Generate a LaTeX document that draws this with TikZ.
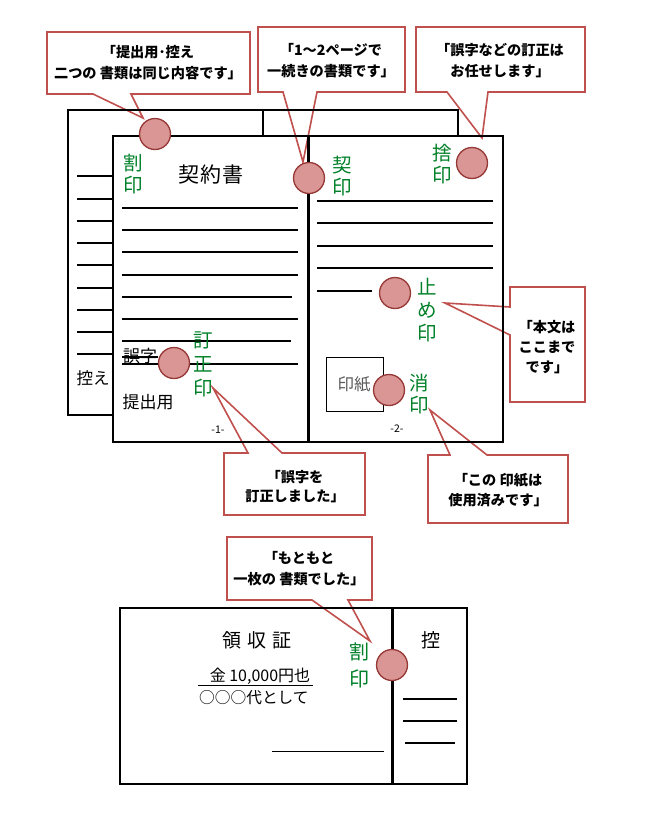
\documentclass[tikz,border=0pt]{standalone}
\usepackage{fontspec}
\setmainfont{Noto Sans CJK JP}
\definecolor{calred}{RGB}{192,80,77}
\definecolor{sealfill}{RGB}{217,150,148}
\definecolor{sealborder}{RGB}{149,55,53}
\definecolor{grn}{RGB}{0,128,40}
\definecolor{graytext}{RGB}{89,89,89}
\tikzset{
  callout/.style={draw=calred, line width=1.6pt, fill=white, line join=miter},
  ctext/.style={font=\fontsize{14.2}{21}\selectfont\bfseries, align=center, text=black, inner sep=0pt},
  seal/.style={circle, draw=sealborder, fill=sealfill, line width=1.3pt, minimum size=31pt, inner sep=0pt},
  glabel/.style={text=grn, font=\fontsize{19.5}{22.5}\selectfont, align=center, inner sep=0pt},
  btext/.style={text=black, inner sep=0pt},
  doc/.style={line width=2pt, line cap=rect},
  divider/.style={line width=3pt},
  rulel/.style={line width=1.1pt},
}
\begin{document}
\begin{tikzpicture}[x=1pt,y=-1pt]
\useasboundingbox (0,0) rectangle (648,831);

% ---- callouts (drawn first)
\draw[callout] (47,32) -- (250,32) -- (250,94) -- (131,94) -- (143,118) -- (93,94) -- (47,94) -- cycle;
\node[ctext] (c1) at (148,63) {「提出用･控え\\二つの 書類は同じ内容です」};

\draw[callout] (258,27) -- (405,27) -- (405,92) -- (317,92) -- (303,162) -- (283,92) -- (258,92) -- cycle;
\node[ctext] (c2) at (331,61) {「1～2ページで\\一続きの書類です」};

\draw[callout] (416,27) -- (585,27) -- (585,92) -- (488,92) -- (482,138) -- (447,92) -- (416,92) -- cycle;
\node[ctext] (c3) at (500,61) {「誤字などの訂正は\\お任せします」};

\draw[callout] (510,287) -- (585,287) -- (585,402) -- (510,402) -- (510,335) -- (445,303) -- (510,307) -- cycle;
\node[ctext, font=\fontsize{14.2}{20}\selectfont\bfseries] (c4) at (547,347) {「本文は\\ここまで\\です」};

\draw[callout] (224,453) -- (248,453) -- (213,388) -- (282,453) -- (365,453) -- (365,515) -- (224,515) -- cycle;
\node[ctext, font=\fontsize{14.2}{19}\selectfont\bfseries] (c5) at (295,487) {「誤字を\\訂正しました」};

\draw[callout] (428,455) -- (450,455) -- (430,410) -- (487,455) -- (568,455) -- (568,523) -- (428,523) -- cycle;
\node[ctext, font=\fontsize{14.2}{20}\selectfont\bfseries] (c6) at (498,490) {「この 印紙は\\使用済みです」};

\draw[callout] (227,537) -- (372,537) -- (372,600) -- (348,600) -- (370,641) -- (312,600) -- (227,600) -- cycle;
\node[ctext] (c7) at (299,569) {「もともと\\一枚の 書類でした」};

% ---- back sheet (控え)
\draw[doc] (113,415) -- (68,415) -- (68,110) -- (458,110) -- (458,136);
\draw[doc] (263,110) -- (263,136);
\foreach \yy in {176,199,221,243,265,288,310,332,354}
  \draw[rulel] (77,\yy) -- (113,\yy);
\node[btext, font=\fontsize{16.5}{18}\selectfont] (hikae) at (93,378) {控え};

% ---- front sheet (提出用)
\draw[doc] (113,136) rectangle (503,442);
\draw[divider] (308,136) -- (308,442);
\foreach \yy/\xe in {208/298,230/298,252/298,275/298,297/292,319/298,341/291,364/298}
  \draw[rulel] (122,\yy) -- (\xe,\yy);
\node[btext, font=\fontsize{21}{23}\selectfont] (title) at (211,175) {契\hspace{1pt}約\hspace{1pt}書};
\node[btext, font=\fontsize{17}{19}\selectfont] (goji) at (140,356) {誤字};
\draw[rulel] (122,357) -- (158,357);
\node[btext, font=\fontsize{17}{19}\selectfont] (teishutsu) at (148,402) {提出用};
\node[btext, font=\fontsize{10.5}{12}\selectfont] (p1) at (218,430) {-1-};

\foreach \yy in {201,223,246,268}
  \draw[rulel] (317,\yy) -- (493,\yy);
\draw[rulel] (317,291) -- (372,291);
\draw[line width=1pt] (326,357) rectangle (383,411);
\node[btext, text=graytext, font=\fontsize{16.5}{18}\selectfont] (inshi) at (354,384) {印紙};
\node[btext, font=\fontsize{10.5}{12}\selectfont] (p2) at (397,429) {-2-};

% ---- receipt
\draw[doc] (120,608) rectangle (467,784);
\draw[divider] (392,608) -- (392,784);
\node[btext, font=\fontsize{19}{21}\selectfont] (ryoshu) at (257,640) {領\hspace{6pt}収\hspace{6pt}証};
\node[btext, font=\fontsize{19}{21}\selectfont] (hikae2) at (431,640) {控};
\node[btext, font=\fontsize{16}{18}\selectfont] (kin) at (260,676) {金 10,000円也};
\draw[line width=1pt] (198,685) -- (313,685);
\node[btext, font=\fontsize{15.7}{18}\selectfont, anchor=west] (dai) at (199,698) {○○○代として};
\draw[line width=1pt] (272,751) -- (384,751);
\draw[rulel] (403,699) -- (457,699);
\draw[rulel] (403,721) -- (457,721);
\draw[rulel] (405,743) -- (455,743);

% ---- green labels
\node[glabel] (l1) at (133,174) {割\\印};
\node[glabel] (l2) at (342,176) {契\\印};
\node[glabel] (l3) at (442,164) {捨\\印};
\node[glabel, font=\fontsize{19.5}{23}\selectfont] (l4) at (427,310) {止\\め\\印};
\node[glabel, font=\fontsize{19.5}{24}\selectfont] (l5) at (203,364) {訂\\正\\印};
\node[glabel] (l6) at (419,394) {消\\印};
\node[glabel, font=\fontsize{20}{27}\selectfont] (l7) at (359,665) {割\\印};

% ---- seals
\node[seal] (s1) at (155,134) {};
\node[seal] (s2) at (309,178) {};
\node[seal] (s3) at (472,163) {};
\node[seal] (s4) at (395,293) {};
\node[seal] (s5) at (174,363) {};
\node[seal] (s6) at (389,390) {};
\node[seal] (s7) at (392,665) {};
\end{tikzpicture}
\end{document}
